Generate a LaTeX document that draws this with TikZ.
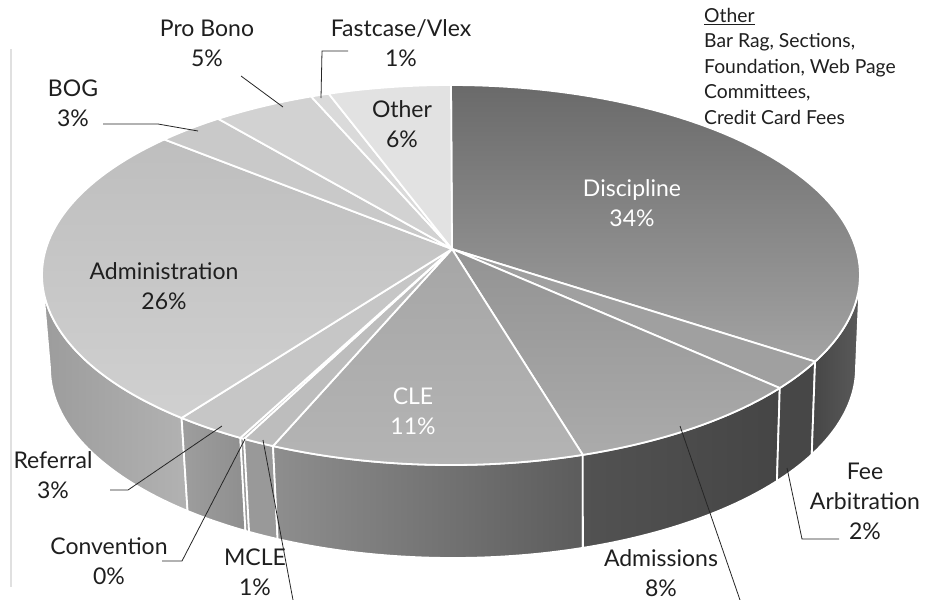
\documentclass[tikz,border=0pt]{standalone}
\usepackage{fontspec}
\setmainfont{Lato}
\definecolor{discT}{HTML}{6A6A6A}
\definecolor{discB}{HTML}{A3A3A3}
\definecolor{feeT}{HTML}{A0A0A0}
\definecolor{admT}{HTML}{939393}
\definecolor{admB}{HTML}{ABABAB}
\definecolor{cleT}{HTML}{A6A6A6}
\definecolor{cleB}{HTML}{B4B4B4}
\definecolor{mcleT}{HTML}{BDBDBD}
\definecolor{convT}{HTML}{C2C2C2}
\definecolor{refT}{HTML}{C6C6C6}
\definecolor{adminT}{HTML}{BEBEBE}
\definecolor{adminB}{HTML}{D0D0D0}
\definecolor{bogT}{HTML}{C9C9C9}
\definecolor{proT}{HTML}{D2D2D2}
\definecolor{fastT}{HTML}{DADADA}
\definecolor{othT}{HTML}{E2E2E2}
\definecolor{sAdminL}{HTML}{9C9C9C}
\definecolor{sAdminR}{HTML}{B2B2B2}
\definecolor{sRef}{HTML}{9E9E9E}
\definecolor{sMcle}{HTML}{999999}
\definecolor{sCleL}{HTML}{8E8E8E}
\definecolor{sCleR}{HTML}{5C5C5C}
\definecolor{sAdmL}{HTML}{525252}
\definecolor{sAdmR}{HTML}{454545}
\definecolor{sFee}{HTML}{474747}
\definecolor{sDiscL}{HTML}{464646}
\definecolor{sDiscR}{HTML}{5A5A5A}
\newcommand\sidepart[3]{\path[edge,#3] plot[domain=#1:#2,samples=40,variable=\t] ({451+409*cos(\t)},{275-190*sin(\t)}) -- plot[domain=#2:#1,samples=40,variable=\t] ({453+403*cos(\t)},{368-190*sin(\t)}) -- cycle;}
\newcommand\toppart[3]{\path[edge,#3] (apex) -- plot[domain=#1:#2,samples=60,variable=\t] ({451+409*cos(\t)},{275-190*sin(\t)}) -- cycle;}
\begin{document}
\begin{tikzpicture}[x=1pt,y=-1pt,
  edge/.style={draw=white,line width=1.8pt,line join=round},
  leader/.style={draw=black!85,line width=0.8pt},
  lbl/.style={align=center,font=\fontsize{23}{30}\selectfont,text=black!88,inner sep=0pt},
  wlbl/.style={lbl,text=white}]
\useasboundingbox (0,0) rectangle (943,600);
\fill[white] (0,0) rectangle (943,600);
\draw[black!12,line width=1.6pt] (11,49) -- (11,587);

\coordinate (apex) at (452,249);

% sides
\sidepart{-180}{-131.2}{left color=sAdminL,right color=sAdminR}
\sidepart{-131.2}{-121}{left color=sRef,right color=sRef!90!black}
\sidepart{-121}{-120.4}{fill=sMcle}
\sidepart{-120.4}{-115.8}{fill=sMcle}
\sidepart{-115.8}{-71.2}{left color=sCleL,right color=sCleR}
\sidepart{-71.2}{-36.5}{left color=sAdmL,right color=sAdmR}
\sidepart{-36.5}{-27.1}{fill=sFee}
\sidepart{-27.1}{0}{left color=sDiscL,right color=sDiscR}

% top faces
\toppart{90}{-27.1}{top color=discT,bottom color=discB}
\toppart{-27.1}{-36.5}{fill=feeT}
\toppart{-36.5}{-71.2}{top color=admT,bottom color=admB}
\toppart{-71.2}{-115.8}{top color=cleT,bottom color=cleB}
\toppart{-115.8}{-120.4}{fill=mcleT}
\toppart{-120.4}{-121}{fill=convT}
\toppart{-121}{-131.2}{fill=refT}
\toppart{-131.2}{-225.5}{top color=adminT,bottom color=adminB}
\toppart{-225.5}{-235.3}{fill=bogT}
\toppart{-235.3}{-250}{fill=proT}
\toppart{-250}{-252.6}{fill=fastT}
\toppart{-252.6}{-270}{fill=othT}

% labels
\node[lbl] (probono) at (207,43) {Pro Bono\\5\%};
\node[lbl] (fastcase) at (401,43) {Fastcase/Vlex\\1\%};
\node[lbl] (bog) at (73,103) {BOG\\3\%};
\node[lbl] (other) at (402,124) {Other\\6\%};
\node[wlbl] (discipline) at (632,203) {Discipline\\34\%};
\node[lbl] (administration) at (164,286) {Administration\\26\%};
\node[wlbl] (cle) at (413,411) {CLE\\11\%};
\node[lbl] (referral) at (53,475) {Referral\\3\%};
\node[lbl] (convention) at (109,561) {Convention\\0\%};
\node[lbl] (mcle) at (255,572) {MCLE\\1\%};
\node[lbl] (admissions) at (661,573) {Admissions\\8\%};
\node[lbl] (fee) at (865,501) {Fee\\Arbitration\\2\%};
\node[anchor=north west,align=left,font=\fontsize{19.3}{25.4}\selectfont,text=black!88,inner sep=0pt] (legend) at (704,8)
  {\underline{Other}\\Bar Rag, Sections,\\Foundation, Web Page\\Committees,\\Credit Card Fees};

% leader lines
\coordinate (pb1) at (241,76);  \coordinate (pb2) at (283,107);
\coordinate (fc1) at (348,51);  \coordinate (fc2) at (322,51); \coordinate (fc3) at (321,98);
\coordinate (bg1) at (103,124); \coordinate (bg2) at (158,124); \coordinate (bg3) at (198,131);
\coordinate (rf1) at (110,490); \coordinate (rf2) at (128,490); \coordinate (rf3) at (222,426);
\coordinate (cv1) at (162,561); \coordinate (cv2) at (182,561); \coordinate (cv3) at (245,439);
\coordinate (mc1) at (263,440); \coordinate (mc2) at (293,600);
\coordinate (ad1) at (680,426); \coordinate (ad2) at (740,600);
\coordinate (fe1) at (787,468); \coordinate (fe2) at (802,539); \coordinate (fe3) at (839,539);
\draw[leader] (pb1) -- (pb2);
\draw[leader] (fc1) -- (fc2) -- (fc3);
\draw[leader] (bg1) -- (bg2) -- (bg3);
\draw[leader] (rf1) -- (rf2) -- (rf3);
\draw[leader] (cv1) -- (cv2) -- (cv3);
\draw[leader] (mc1) -- (mc2);
\draw[leader] (ad1) -- (ad2);
\draw[leader] (fe1) -- (fe2) -- (fe3);
\end{tikzpicture}
\end{document}
